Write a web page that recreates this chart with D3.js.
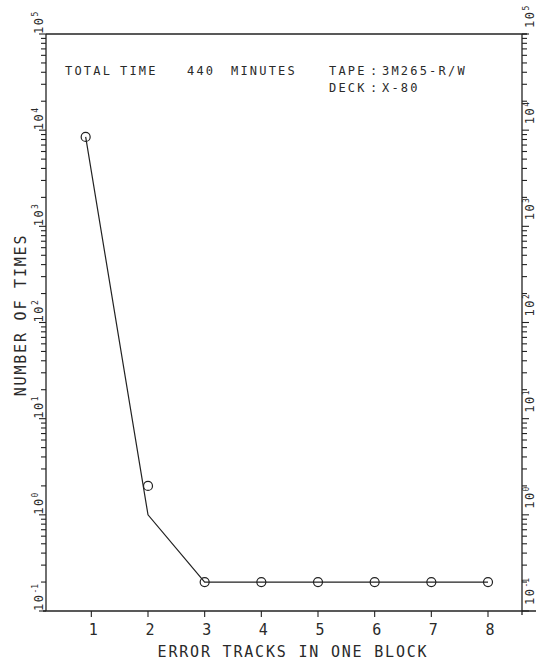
<!DOCTYPE html>
<html>
<head>
<meta charset="utf-8">
<script src="https://cdn.jsdelivr.net/npm/d3@7"></script>
<style>
body { margin: 0; background: #fff; }
text { font-family: "DejaVu Sans Mono", monospace; fill: #2a2a2a; }
</style>
</head>
<body>
<div></div>
<script>
// measured points (circles)
const tracks = [0.9, 2, 3, 4, 5, 6, 7, 8]
const times = [8500, 2, 0.2, 0.2, 0.2, 0.2, 0.2, 0.2]
// the drawn curve
const curveTracks = [0.9, 2, 3, 8]
const curveTimes = [8500, 1, 0.2, 0.2]

const xTicks = [1, 2, 3, 4, 5, 6, 7, 8]
const yExps = [-1, 0, 1, 2, 3, 4, 5]

const w = 536
const h = 661
const padLeft = 46, padRight = 522, padTop = 34, padBottom = 611

const svg = d3.select("div").append("svg")
    .attr("width", w)
    .attr("height", h)

const x = d3.scaleLinear().domain([0.2, 8.6]).range([padLeft, padRight])
const y = d3.scaleLog().domain([0.1, 1e5]).range([padBottom, padTop])

const ink = "#222"

// frame
svg.append("line").attr("x1", padLeft - 3).attr("x2", w).attr("y1", padBottom).attr("y2", padBottom)
    .attr("stroke", ink).attr("stroke-width", 1.3)
svg.append("line").attr("x1", padLeft).attr("x2", padRight + 5).attr("y1", padTop).attr("y2", padTop)
    .attr("stroke", ink).attr("stroke-width", 1.3)
svg.append("line").attr("x1", padLeft).attr("x2", padLeft).attr("y1", padTop).attr("y2", padBottom)
    .attr("stroke", ink).attr("stroke-width", 1.3)
svg.append("line").attr("x1", padRight).attr("x2", padRight).attr("y1", padTop).attr("y2", padBottom + 4)
    .attr("stroke", ink).attr("stroke-width", 1.3)

// log ticks, both sides
const logTicks = y.ticks()
const isMajor = v => Math.abs(Math.log10(v) - Math.round(Math.log10(v))) < 1e-6

svg.append("g").selectAll("line")
    .data(logTicks)
    .enter()
    .append("line")
    .attr("x1", padLeft)
    .attr("x2", d => padLeft - (isMajor(d) ? 7 : 5))
    .attr("y1", d => y(d))
    .attr("y2", d => y(d))
    .attr("stroke", ink)
    .attr("stroke-width", 1.1)

svg.append("g").selectAll("line")
    .data(logTicks)
    .enter()
    .append("line")
    .attr("x1", padRight)
    .attr("x2", d => padRight + (isMajor(d) ? 7 : 5))
    .attr("y1", d => y(d))
    .attr("y2", d => y(d))
    .attr("stroke", ink)
    .attr("stroke-width", 1.1)

// decade labels, rotated
function decadeLabels(xPos, shift) {
    const t = svg.append("g").selectAll("text")
        .data(yExps)
        .enter()
        .append("text")
        .attr("transform", d => `translate(${xPos},${y(Math.pow(10, d)) - shift}) rotate(-90)`)
        .attr("font-size", 12)
        .attr("letter-spacing", 1.5)
    t.append("tspan").text("10")
    t.append("tspan")
        .attr("dy", -5)
        .attr("font-size", 8)
        .attr("letter-spacing", 0)
        .text(d => d)
}
decadeLabels(43, 0)
decadeLabels(534, 6)

// x ticks
svg.append("g").selectAll("line")
    .data(xTicks)
    .enter()
    .append("line")
    .attr("x1", d => x(d))
    .attr("x2", d => x(d))
    .attr("y1", padBottom)
    .attr("y2", padBottom + 6)
    .attr("stroke", ink)
    .attr("stroke-width", 1.1)

svg.append("g").selectAll("text")
    .data(xTicks)
    .enter()
    .append("text")
    .attr("x", d => x(d) + 2)
    .attr("y", 635)
    .attr("text-anchor", "middle")
    .attr("font-size", 15)
    .text(d => d)

// axis titles
svg.append("text")
    .attr("x", 293)
    .attr("y", 657)
    .attr("text-anchor", "middle")
    .attr("font-size", 15)
    .attr("letter-spacing", 1.8)
    .text("ERROR TRACKS IN ONE BLOCK")

svg.append("text")
    .attr("transform", "translate(26,315) rotate(-90)")
    .attr("text-anchor", "middle")
    .attr("font-size", 15)
    .attr("letter-spacing", 1.8)
    .text("NUMBER OF TIMES")

// header notes
const notes = [
    ["TOTAL", 65, 75], ["TIME", 120, 75], ["440", 187, 75], ["MINUTES", 231, 75],
    ["TAPE", 329, 75], [":", 370, 75], ["3M265-R/W", 382, 75],
    ["DECK", 329, 92], [":", 370, 92], ["X-80", 382, 92]
]
svg.append("g").selectAll("text")
    .data(notes)
    .enter()
    .append("text")
    .attr("x", d => d[1])
    .attr("y", d => d[2])
    .attr("font-size", 12)
    .attr("letter-spacing", 2.2)
    .text(d => d[0])

// curve
const curve = d3.line()
    .x(d => x(d[0]))
    .y(d => y(d[1]))

svg.append("path")
    .datum(curveTracks.map((t, i) => [t, curveTimes[i]]))
    .attr("d", curve)
    .attr("fill", "none")
    .attr("stroke", ink)
    .attr("stroke-width", 1.2)

// points
svg.selectAll("circle")
    .data(tracks.map((t, i) => [t, times[i]]))
    .enter()
    .append("circle")
    .attr("cx", d => x(d[0]))
    .attr("cy", d => y(d[1]))
    .attr("r", 4.5)
    .attr("fill", "none")
    .attr("stroke", ink)
    .attr("stroke-width", 1.2)
</script>
</body>
</html>
